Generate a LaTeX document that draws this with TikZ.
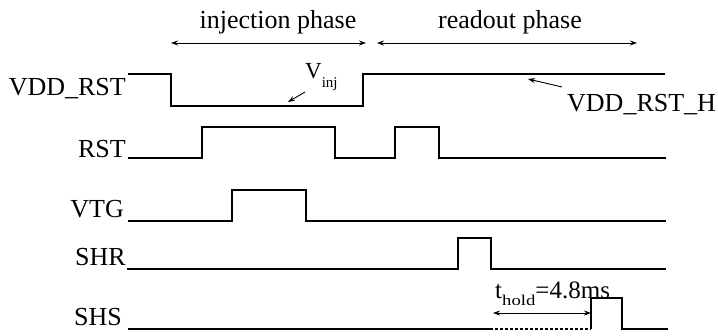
\documentclass[tikz,border=0pt]{standalone}
\usepackage{fontspec}
\setmainfont{Liberation Serif}
\usetikzlibrary{arrows.meta}
\begin{document}
\begin{tikzpicture}[x=1pt,y=-1pt,
  sig/.style={line width=1.5pt, line join=miter},
  lbl/.style={font=\fontsize{26}{30}\selectfont, inner sep=0pt, anchor=base east},
  txt/.style={font=\fontsize{26}{30}\selectfont, inner sep=0pt},
  dim/.style={line width=0.9pt, {Stealth[length=7pt,width=5pt]}-{Stealth[length=7pt,width=5pt]}},
  ptr/.style={line width=0.9pt, -{Stealth[length=7pt,width=5pt]}},
]
\useasboundingbox (0,0) rectangle (718,335);
% signal labels
\node[lbl] (lvdd) at (126,95) {VDD\_RST};
\node[lbl] (lrst) at (126,157) {RST};
\node[lbl] (lvtg) at (124,217) {VTG};
\node[lbl] (lshr) at (126,265) {SHR};
\node[lbl] (lshs) at (122,325) {SHS};
% waveforms
\draw[sig] (128,74) -- (171,74) -- (171,106) -- (363,106) -- (363,74) -- (665,74);
\draw[sig] (128,158) -- (202,158) -- (202,127) -- (335,127) -- (335,158) -- (395,158) -- (395,127) -- (439,127) -- (439,158) -- (666,158);
\draw[sig] (128,221) -- (232,221) -- (232,190) -- (306,190) -- (306,221) -- (666,221);
\draw[sig] (127,269) -- (458,269) -- (458,238) -- (491,238) -- (491,269) -- (666,269);
\draw[sig] (128,329) -- (490,329);
\draw[sig, dash pattern=on 3pt off 2pt] (490,329) -- (591,329);
\draw[sig] (591,329) -- (591,298) -- (622,298) -- (622,329) -- (668,329);
% phases
\coordinate (ia) at (171,43);
\coordinate (ib) at (366,43);
\draw[dim] (ia) -- (ib);
\node[txt, anchor=base] (tinj) at (278,28) {injection phase};
\coordinate (ra) at (377,43);
\coordinate (rb) at (637,43);
\draw[dim] (ra) -- (rb);
\node[txt, anchor=base] (tread) at (510,28) {readout phase};
% Vinj
\node[inner sep=0pt, anchor=base west, font=\fontsize{23}{26}\selectfont] (vinj) at (305,78) {V\raisebox{-9pt}{\fontsize{15}{15}\selectfont inj}};
\coordinate (va) at (305,92);
\coordinate (vb) at (288,102);
\draw[ptr] (va) -- (vb);
% VDD_RST_H
\node[txt, anchor=base west] (vh) at (567,111) {VDD\_RST\_H};
\coordinate (ha) at (562,87);
\coordinate (hb) at (528,79);
\draw[ptr] (ha) -- (hb);
% thold
\node[inner sep=0pt, anchor=base west, font=\fontsize{25}{28}\selectfont] (th) at (495,298) {t\raisebox{-7pt}{\scalebox{1.25}[1]{\fontsize{15}{15}\selectfont hold}}=4.8ms};
\coordinate (ta) at (493,313);
\coordinate (tb) at (591,313);
\draw[dim] (ta) -- (tb);
\end{tikzpicture}
\end{document}
